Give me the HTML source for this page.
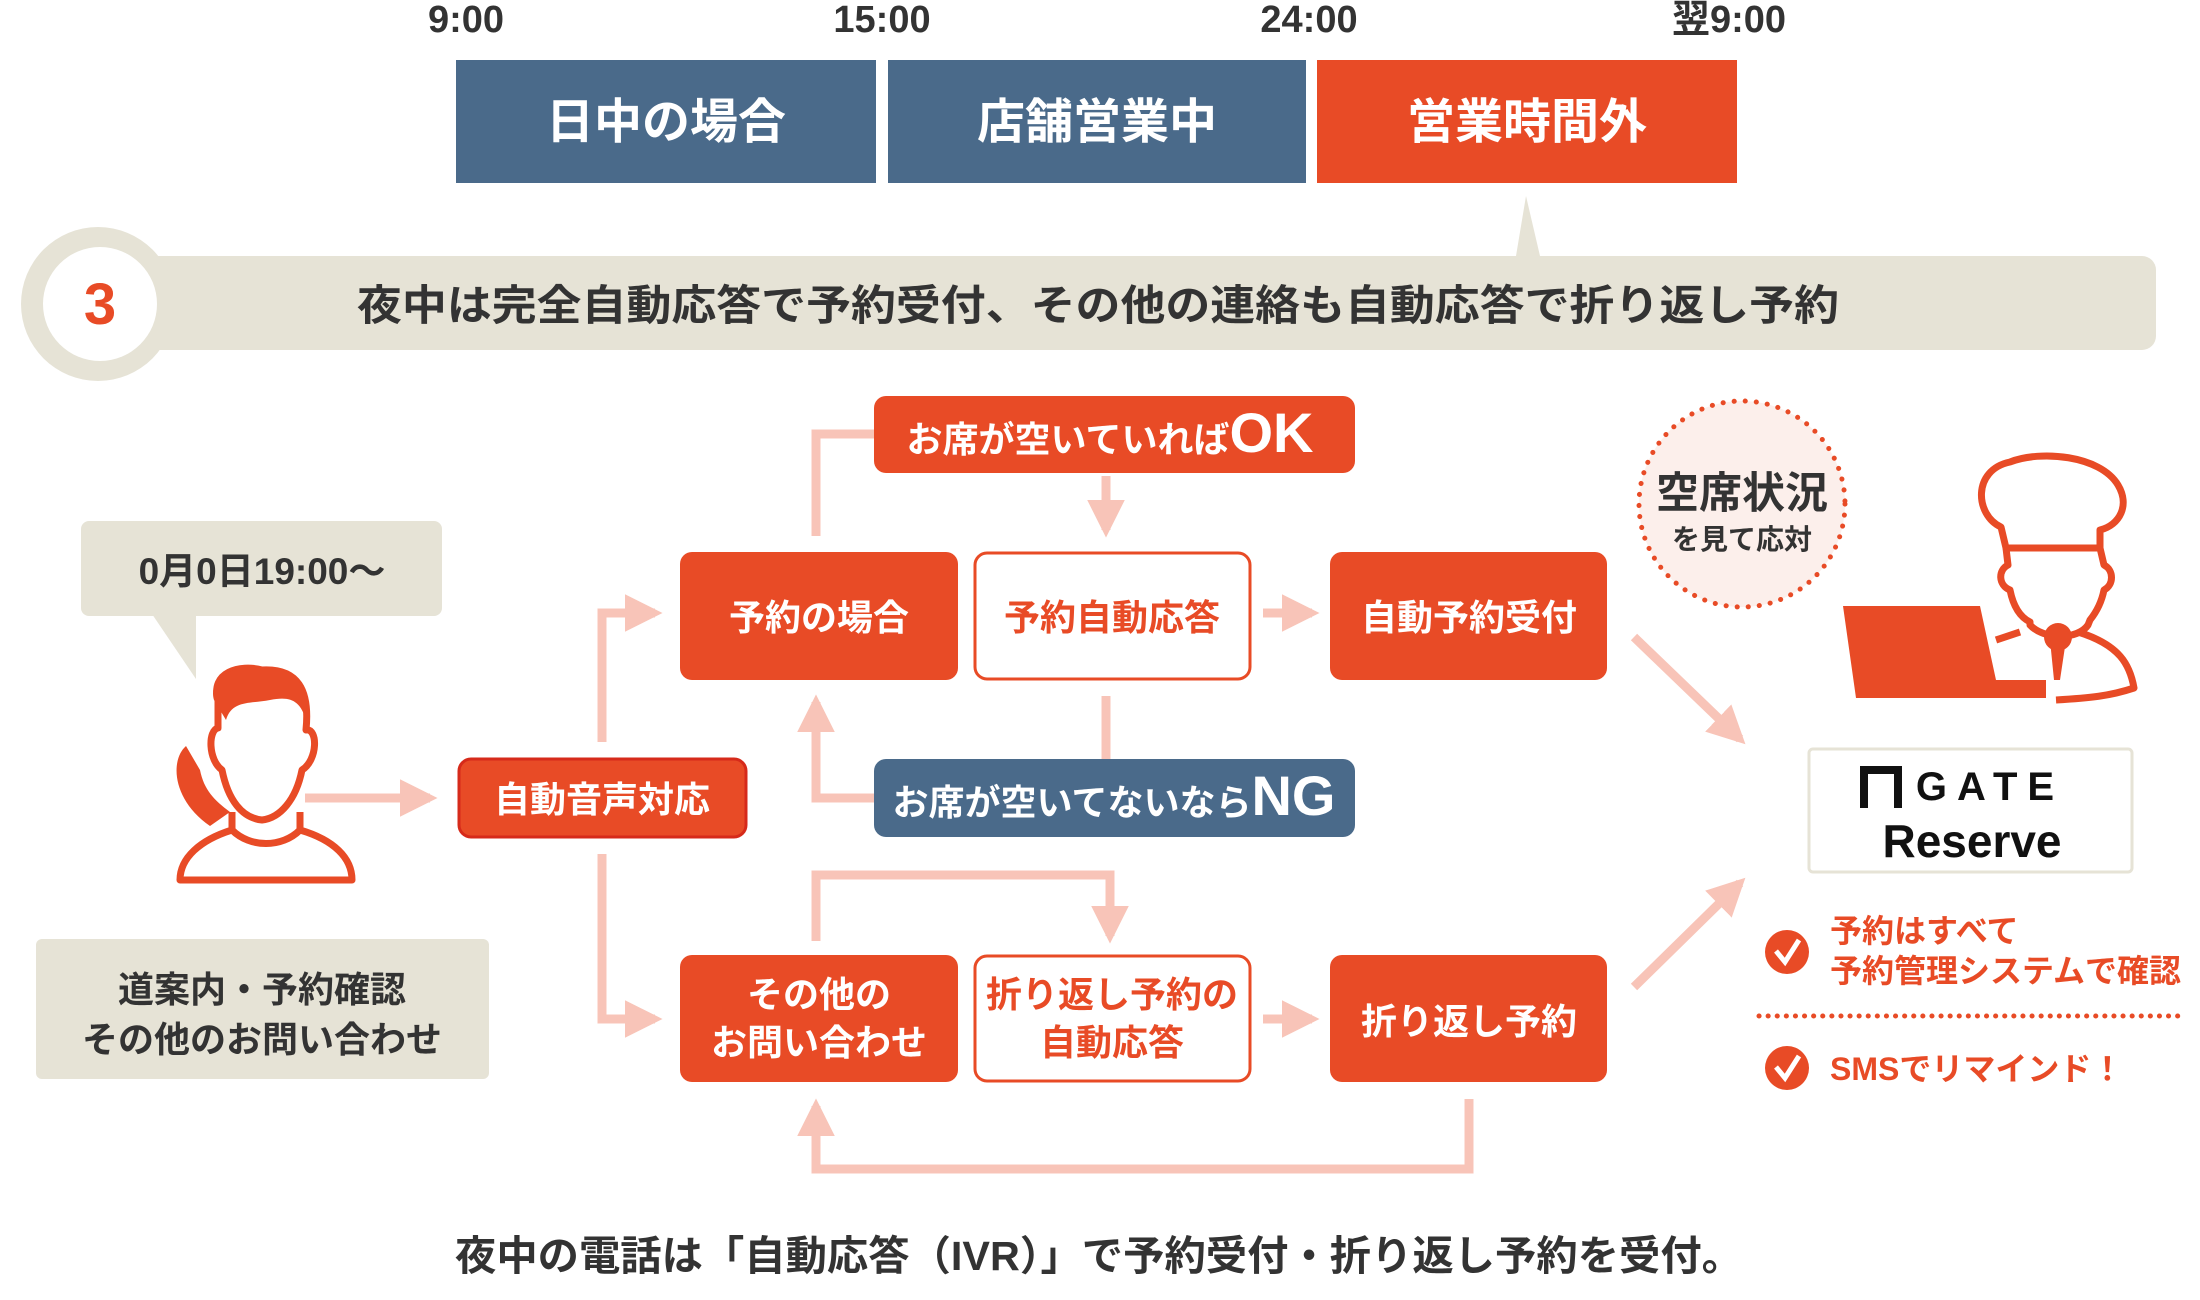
<!DOCTYPE html>
<html><head><meta charset="utf-8"><style>
html,body{margin:0;padding:0;background:#fff;width:2200px;height:1300px;overflow:hidden}
svg text{font-family:"Liberation Sans","Noto Sans CJK JP",sans-serif;font-weight:bold}
</style></head><body>
<svg width="2200" height="1300" viewBox="0 0 2200 1300" xmlns="http://www.w3.org/2000/svg">
<defs>
<marker id="ah" viewBox="0 0 10 10" refX="8" refY="5" markerWidth="4.2" markerHeight="4.2" orient="auto"><path d="M0,0 L10,5 L0,10 z" fill="#f8c4b8"/></marker>
</defs>
<!-- times -->
<g fill="#333" font-size="38" text-anchor="middle">
<text x="466" y="32">9:00</text><text x="882" y="32">15:00</text><text x="1309" y="32">24:00</text><text x="1729" y="32">翌9:00</text>
</g>
<rect x="456" y="60" width="420" height="123" fill="#4a6a8a"/>
<rect x="888" y="60" width="418" height="123" fill="#4a6a8a"/>
<rect x="1317" y="60" width="420" height="123" fill="#e84b26"/>
<g fill="#fff" font-size="48" text-anchor="middle">
<text x="666" y="138">日中の場合</text><text x="1097" y="138">店舗営業中</text><text x="1527" y="138">営業時間外</text>
</g>
<!-- banner -->
<path d="M1516,256 L1526,196 L1540,256 z" fill="#e6e3d6"/>
<rect x="112" y="256" width="2044" height="94" rx="14" fill="#e6e3d6"/>
<circle cx="98" cy="304" r="77" fill="#e6e3d6"/>
<circle cx="100" cy="304" r="57" fill="#fff"/>
<text x="100" y="324" font-size="58" fill="#e84b26" text-anchor="middle">3</text>
<text x="357" y="320" font-size="42" fill="#333" textLength="1482" lengthAdjust="spacingAndGlyphs">夜中は完全自動応答で予約受付、その他の連絡も自動応答で折り返し予約</text>
<!-- bubble -->
<rect x="81" y="521" width="361" height="95" rx="8" fill="#e6e3d6"/>
<path d="M152,614 L196,679 L196,614 z" fill="#e6e3d6"/>
<text x="262" y="584" font-size="37" fill="#333" text-anchor="middle">0月0日19:00〜</text>
<!-- person -->
<g fill="none" stroke="#e84b26" stroke-width="7" stroke-linejoin="round">
<path d="M218,700 C210,672 240,664 262,670 C298,668 310,690 306,730 C318,728 318,760 302,770 C296,800 280,818 262,820 C242,818 228,800 222,770 C208,760 208,730 218,728 z"/>
<path d="M232,812 L232,830 C200,840 180,858 180,880 L352,880 C352,858 334,840 300,830 L300,812"/>
<path d="M232,830 C250,848 282,848 300,830"/>
</g>
<path d="M214,700 C208,680 230,664 262,668 C290,664 310,680 306,720 C300,700 290,696 270,700 C250,704 232,700 226,720 z" fill="#e84b26"/>
<path d="M186,746 C170,760 172,800 210,826 L230,812 C214,800 204,790 200,770 z" fill="#e84b26"/>
<!-- info box -->
<rect x="36" y="939" width="453" height="140" rx="6" fill="#e6e3d6"/>
<g font-size="36" fill="#333" text-anchor="middle"><text x="262" y="1002">道案内・予約確認</text><text x="262" y="1052">その他のお問い合わせ</text></g>
<!-- connectors -->
<g fill="none" stroke="#f8c4b8" stroke-width="9">
<path d="M305,798 L430,798" marker-end="url(#ah)"/>
<path d="M602,742 L602,613 L655,613" marker-end="url(#ah)"/>
<path d="M602,854 L602,1019 L655,1019" marker-end="url(#ah)"/>
<path d="M816,536 L816,434 L874,434"/>
<path d="M1106,476 L1106,530" marker-end="url(#ah)"/>
<path d="M1106,696 L1106,759"/>
<path d="M874,798 L816,798 L816,702" marker-end="url(#ah)"/>
<path d="M1263,613 L1312,613" marker-end="url(#ah)"/>
<path d="M816,941 L816,875 L1110,875 L1110,936" marker-end="url(#ah)"/>
<path d="M1263,1019 L1312,1019" marker-end="url(#ah)"/>
<path d="M1469,1099 L1469,1169 L816,1169 L816,1106" marker-end="url(#ah)"/>
<path d="M1634,637 L1740,739" marker-end="url(#ah)"/>
<path d="M1634,987 L1740,883" marker-end="url(#ah)"/>
</g>
<!-- nodes -->
<rect x="459" y="759" width="287" height="78" rx="12" fill="#e84b26" stroke="#d62a1a" stroke-width="3"/>
<text x="602" y="812" font-size="36" fill="#fff" text-anchor="middle">自動音声対応</text>
<rect x="874" y="396" width="481" height="77" rx="12" fill="#e84b26"/>
<text x="1110" y="452" font-size="36" fill="#fff" text-anchor="middle">お席が空いていれば<tspan font-size="56">OK</tspan></text>
<rect x="874" y="759" width="481" height="78" rx="12" fill="#4a6a8a"/>
<text x="1114" y="815" font-size="36" fill="#fff" text-anchor="middle">お席が空いてないなら<tspan font-size="56">NG</tspan></text>
<rect x="680" y="552" width="278" height="128" rx="12" fill="#e84b26"/>
<text x="819" y="630" font-size="36" fill="#fff" text-anchor="middle">予約の場合</text>
<rect x="975" y="553" width="275" height="126" rx="12" fill="#fff" stroke="#e84b26" stroke-width="3"/>
<text x="1112" y="630" font-size="36" fill="#e84b26" text-anchor="middle">予約自動応答</text>
<rect x="1330" y="552" width="277" height="128" rx="12" fill="#e84b26"/>
<text x="1469" y="630" font-size="36" fill="#fff" text-anchor="middle">自動予約受付</text>
<rect x="680" y="955" width="278" height="127" rx="12" fill="#e84b26"/>
<g font-size="36" fill="#fff" text-anchor="middle"><text x="819" y="1007">その他の</text><text x="819" y="1055">お問い合わせ</text></g>
<rect x="975" y="956" width="275" height="125" rx="12" fill="#fff" stroke="#e84b26" stroke-width="3"/>
<g font-size="36" fill="#e84b26" text-anchor="middle"><text x="1112" y="1007">折り返し予約の</text><text x="1112" y="1055">自動応答</text></g>
<rect x="1330" y="955" width="277" height="127" rx="12" fill="#e84b26"/>
<text x="1469" y="1034" font-size="36" fill="#fff" text-anchor="middle">折り返し予約</text>
<!-- dotted circle -->
<circle cx="1742" cy="504" r="103" fill="#fcefeb" stroke="#e84b26" stroke-width="5" stroke-dasharray="0.1 11" stroke-linecap="round"/>
<text x="1742" y="508" font-size="43" fill="#333" text-anchor="middle">空席状況</text>
<text x="1742" y="549" font-size="28" fill="#333" text-anchor="middle">を見て応対</text>
<!-- chef -->
<g fill="none" stroke="#e84b26" stroke-width="7" stroke-linejoin="round">
<path d="M2001,527 C1975,515 1972,470 2010,462 C2040,450 2100,455 2118,485 C2130,505 2120,525 2100,530 L2100,548 L2006,548 z"/>
<path d="M2006,548 L2008,565 C1998,570 1998,585 2010,590 C2014,610 2022,618 2030,622 L2030,625 C2044,640 2078,640 2088,625 L2090,620 C2098,610 2102,600 2104,590 C2114,585 2114,570 2104,565 L2100,548"/>
<path d="M1996,640 L2020,632 M2078,632 C2120,645 2130,665 2134,688 C2110,696 2090,698 2056,700"/>
</g>
<circle cx="2058" cy="637" r="14" fill="#e84b26"/>
<path d="M2050,640 L2066,640 L2060,680 L2054,680 z" fill="#e84b26"/>
<path d="M1843,606 L1980,606 L1996,680 L2046,680 L2046,698 L1856,698 z" fill="#e84b26"/>
<!-- GATE -->
<rect x="1809" y="749" width="323" height="123" rx="4" fill="#fff" stroke="#e6e3d6" stroke-width="3"/>
<path d="M1864,808 L1864,770 L1898,770 L1898,808" fill="none" stroke="#111" stroke-width="8"/>
<text x="1990" y="800" font-size="40" fill="#111" text-anchor="middle" font-weight="normal" letter-spacing="10">GATE</text>
<text x="1972" y="857" font-size="46" fill="#111" text-anchor="middle" font-weight="normal">Reserve</text>
<!-- checks -->
<circle cx="1787" cy="952" r="22" fill="#e84b26"/>
<path d="M1776,951 L1785,962 L1799,940" fill="none" stroke="#fff" stroke-width="5"/>
<g font-size="32" fill="#e84b26"><text x="1830" y="942">予約はすべて</text><text x="1830" y="982">予約管理システムで確認</text></g>
<line x1="1759" y1="1016" x2="2181" y2="1016" stroke="#e84b26" stroke-width="5" stroke-dasharray="0.1 9" stroke-linecap="round"/>
<circle cx="1787" cy="1068" r="22" fill="#e84b26"/>
<path d="M1776,1067 L1785,1078 L1799,1056" fill="none" stroke="#fff" stroke-width="5"/>
<text x="1830" y="1080" font-size="32" fill="#e84b26">SMSでリマインド！</text>
<!-- caption -->
<text x="455" y="1270" font-size="41" fill="#333" textLength="1288" lengthAdjust="spacingAndGlyphs">夜中の電話は「自動応答（IVR）」で予約受付・折り返し予約を受付。</text>
</svg>
</body></html>
